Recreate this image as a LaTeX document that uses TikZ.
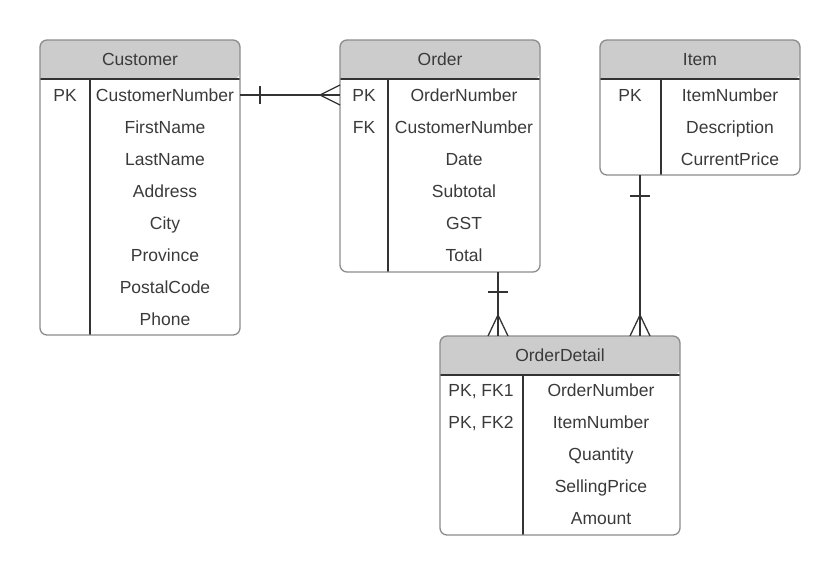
\documentclass[tikz,border=0pt]{standalone}
\usepackage{fontspec}
\setmainfont{Liberation Sans}
\usetikzlibrary{calc}
\definecolor{hdr}{HTML}{CCCCCC}
\definecolor{bord}{HTML}{8C8C8C}
\definecolor{ink}{HTML}{333333}
\definecolor{txt}{HTML}{3A3A3A}
\begin{document}
\begin{tikzpicture}[x=1pt,y=-1pt,
  txtnode/.style={inner sep=0pt,text=txt,font=\fontsize{17.5}{20}\selectfont,anchor=base,yshift=-6.5pt},
  conn/.style={draw=ink,line width=1.3pt},
  divline/.style={draw=ink,line width=1.1pt},
  tbl/.style={draw=bord,line width=1.3pt,rounded corners=7pt}]
\useasboundingbox (0,0) rectangle (840,576);
% ---------- Customer ----------
\fill[hdr,rounded corners=7pt] (40,79) -- (40,40) -- (240,40) -- (240,79) [sharp corners] -- cycle;
\draw[divline] (40,79) -- (240,79);
\draw[divline] (90,79) -- (90,335);
\draw[tbl] (40,40) rectangle (240,335);
\node[txtnode] (custT) at (140,59) {Customer};
\node[txtnode] (custK1) at (65,95) {PK};
\node[txtnode] (custF1) at (165,95) {CustomerNumber};
\node[txtnode] (custF2) at (165,127) {FirstName};
\node[txtnode] (custF3) at (165,159) {LastName};
\node[txtnode] (custF4) at (165,191) {Address};
\node[txtnode] (custF5) at (165,223) {City};
\node[txtnode] (custF6) at (165,255) {Province};
\node[txtnode] (custF7) at (165,287) {PostalCode};
\node[txtnode] (custF8) at (165,319) {Phone};
\coordinate (custR) at (240,95);
% ---------- Order ----------
\fill[hdr,rounded corners=7pt] (340,79) -- (340,40) -- (540,40) -- (540,79) [sharp corners] -- cycle;
\draw[divline] (340,79) -- (540,79);
\draw[divline] (388,79) -- (388,272);
\draw[tbl] (340,40) rectangle (540,272);
\node[txtnode] (ordT) at (440,59) {Order};
\node[txtnode] (ordK1) at (364,95) {PK};
\node[txtnode] (ordK2) at (364,127) {FK};
\node[txtnode] (ordF1) at (464,95) {OrderNumber};
\node[txtnode] (ordF2) at (464,127) {CustomerNumber};
\node[txtnode] (ordF3) at (464,159) {Date};
\node[txtnode] (ordF4) at (464,191) {Subtotal};
\node[txtnode] (ordF5) at (464,223) {GST};
\node[txtnode] (ordF6) at (464,255) {Total};
\coordinate (ordL) at (340,95);
\coordinate (ordB) at (498,272);
% ---------- Item ----------
\fill[hdr,rounded corners=7pt] (600,79) -- (600,40) -- (800,40) -- (800,79) [sharp corners] -- cycle;
\draw[divline] (600,79) -- (800,79);
\draw[divline] (661,79) -- (661,175);
\draw[tbl] (600,40) rectangle (800,175);
\node[txtnode] (itmT) at (700,59) {Item};
\node[txtnode] (itmK1) at (630,95) {PK};
\node[txtnode] (itmF1) at (730,95) {ItemNumber};
\node[txtnode] (itmF2) at (730,127) {Description};
\node[txtnode] (itmF3) at (730,159) {CurrentPrice};
\coordinate (itmB) at (640,175);
% ---------- OrderDetail ----------
\fill[hdr,rounded corners=7pt] (440,375) -- (440,336) -- (680,336) -- (680,375) [sharp corners] -- cycle;
\draw[divline] (440,375) -- (680,375);
\draw[divline] (523,375) -- (523,535);
\draw[tbl] (440,336) rectangle (680,535);
\node[txtnode] (odT) at (560,355) {OrderDetail};
\node[txtnode] (odK1) at (481,390) {PK, FK1};
\node[txtnode] (odK2) at (481,422) {PK, FK2};
\node[txtnode] (odF1) at (601,390) {OrderNumber};
\node[txtnode] (odF2) at (601,422) {ItemNumber};
\node[txtnode] (odF3) at (601,454) {Quantity};
\node[txtnode] (odF4) at (601,486) {SellingPrice};
\node[txtnode] (odF5) at (601,518) {Amount};
\coordinate (odT1) at (498,336);
\coordinate (odT2) at (640,336);
% ---------- Connectors ----------
% Customer -- Order (one to many)
\draw[conn] (custR) -- (ordL);
\draw[conn] ($(custR)+(20,-9)$) -- ($(custR)+(20,9)$);
\draw[conn] ($(ordL)+(-20,0)$) -- ($(ordL)+(0,-10)$);
\draw[conn] ($(ordL)+(-20,0)$) -- ($(ordL)+(0,10)$);
% Order -- OrderDetail
\draw[conn] (ordB) -- (odT1);
\draw[conn] ($(ordB)+(-10,20)$) -- ($(ordB)+(10,20)$);
\draw[conn] ($(odT1)+(0,-21)$) -- ($(odT1)+(-10,0)$);
\draw[conn] ($(odT1)+(0,-21)$) -- ($(odT1)+(10,0)$);
% Item -- OrderDetail
\draw[conn] (itmB) -- (odT2);
\draw[conn] ($(itmB)+(-10,21)$) -- ($(itmB)+(10,21)$);
\draw[conn] ($(odT2)+(0,-21)$) -- ($(odT2)+(-10,0)$);
\draw[conn] ($(odT2)+(0,-21)$) -- ($(odT2)+(10,0)$);
\end{tikzpicture}
\end{document}
